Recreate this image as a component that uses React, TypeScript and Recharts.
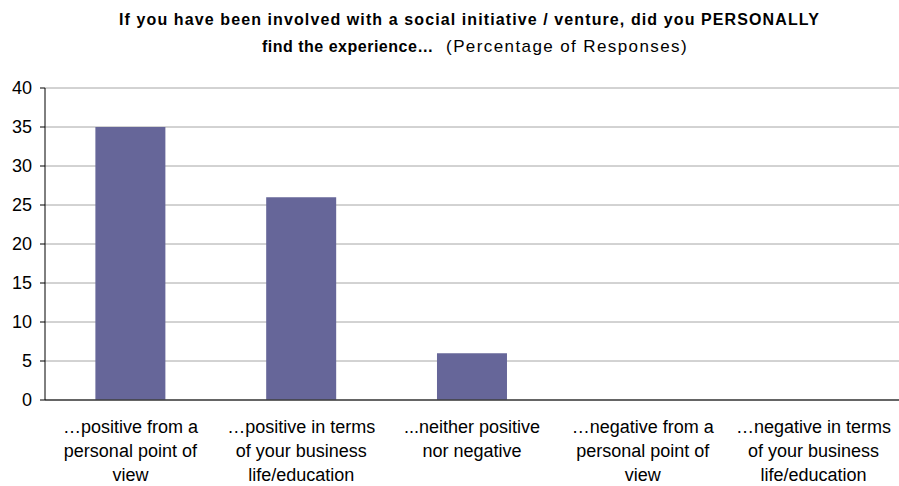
import { Bar, BarChart, CartesianGrid, XAxis, YAxis } from "recharts";

const categories = [
  ["…positive from a", "personal point of", "view"],
  ["…positive in terms", "of your business", "life/education"],
  ["...neither positive", "nor negative"],
  ["…negative from a", "personal point of", "view"],
  ["…negative in terms", "of your business", "life/education"],
];
const percentages = [35, 26, 6, 0, 0];
const yTicks = [0, 5, 10, 15, 20, 25, 30, 35, 40];
const boundaryTicks = [0, 1, 2, 3, 4, 5];

const data = categories.map((lines, i) => ({
  name: lines.join(" "),
  lines,
  value: percentages[i],
  pos: i + 0.5,
}));

const FONT = "'Liberation Sans', Arial, sans-serif";

function CategoryTick(props: any) {
  const { x, y, index } = props;
  const lines = data[index]?.lines ?? [];
  return (
    <text x={x} y={y} textAnchor="middle" fontFamily={FONT} fontSize={18} fill="#000">
      {lines.map((l: string, i: number) => (
        <tspan key={i} x={x} dy={i === 0 ? 25 : 24}>
          {l}
        </tspan>
      ))}
    </text>
  );
}

export default function App() {
  return (
    <div style={{ position: "absolute", left: 0, top: 0, width: 899, height: 486, background: "#fff" }}>
      <div
        style={{
          position: "absolute",
          top: 6,
          left: 20,
          width: 899,
          textAlign: "center",
          fontFamily: FONT,
          fontSize: 16,
          fontWeight: "bold",
          letterSpacing: 1.1,
          lineHeight: "27px",
          whiteSpace: "nowrap",
          color: "#000",
        }}
      >
        If you have been involved with a social initiative / venture, did you PERSONALLY
      </div>
      <div
        style={{
          position: "absolute",
          top: 33,
          left: 262,
          fontFamily: FONT,
          lineHeight: "27px",
          whiteSpace: "nowrap",
          color: "#000",
        }}
      >
        <span style={{ fontWeight: "bold", fontSize: 16, letterSpacing: 0.5 }}>find the experience…</span>
        <span style={{ fontSize: 17, letterSpacing: 1.4 }}>&nbsp; (Percentage of Responses)</span>
      </div>
      <BarChart
        width={899}
        height={486}
        data={data}
        margin={{ top: 88, right: 0, left: 0, bottom: 0 }}
        barCategoryGap="29.5%"
      >
        <CartesianGrid vertical={false} stroke="#a6a6a6" strokeWidth={1} />
        <XAxis
          xAxisId="bounds"
          type="number"
          dataKey="pos"
          domain={[0, 5]}
          ticks={boundaryTicks}
          interval={0}
          height={0}
          axisLine={false}
          tickLine={{ stroke: "#404040", strokeWidth: 1.5 }}
          tickSize={6}
          tick={() => <g />}
        />
        <XAxis
          xAxisId="cat"
          dataKey="name"
          height={86}
          interval={0}
          axisLine={{ stroke: "#404040", strokeWidth: 1.5 }}
          tickLine={false}
          tick={<CategoryTick />}
        />
        <YAxis
          width={45}
          domain={[0, 40]}
          ticks={yTicks}
          interval={0}
          axisLine={{ stroke: "#000" }}
          tickLine={{ stroke: "#000" }}
          tickSize={5}
          tickMargin={8}
          tick={{ fontFamily: FONT, fontSize: 18, fill: "#000" }}
        />
        <Bar xAxisId="cat" dataKey="value" fill="#666699" isAnimationActive={false} />
      </BarChart>
    </div>
  );
}
